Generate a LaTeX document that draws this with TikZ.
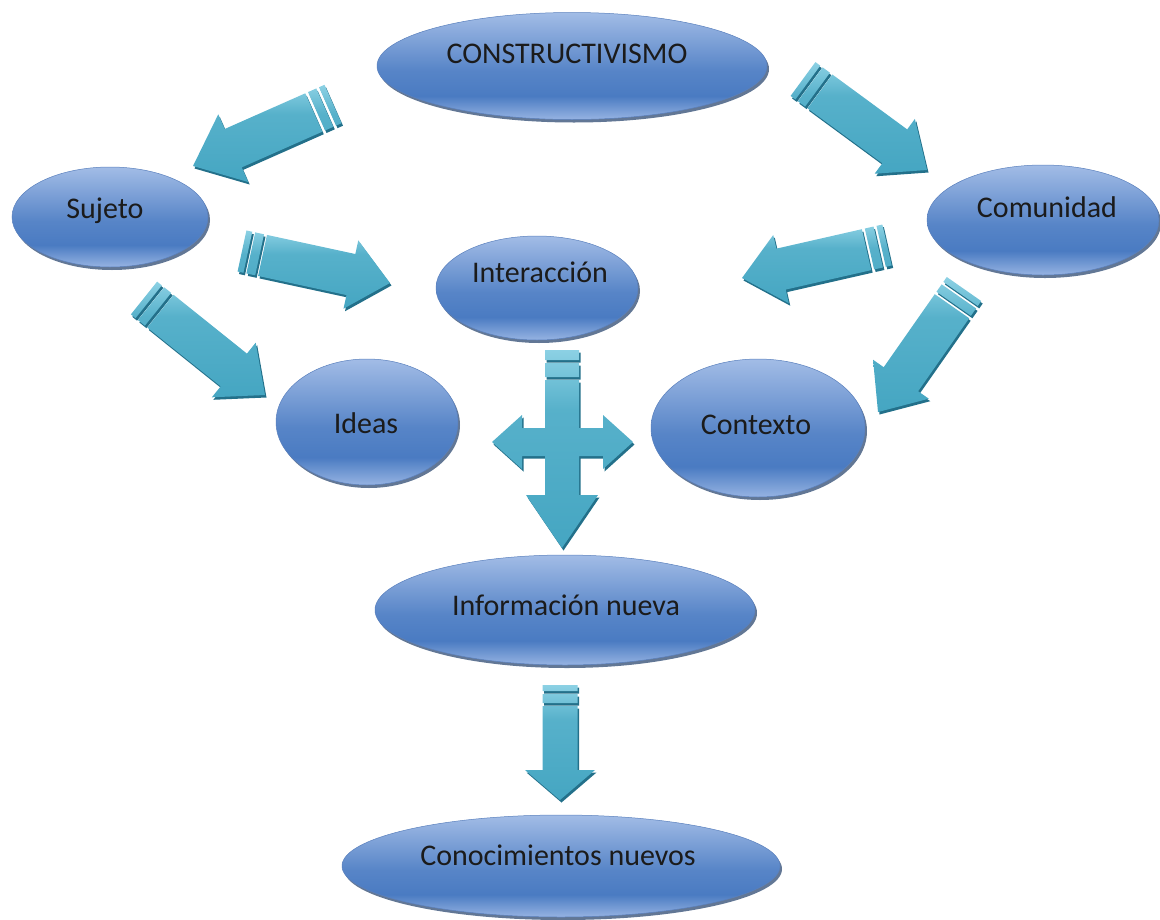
\documentclass[tikz,border=0pt]{standalone}
\usepackage{fontspec}
\setmainfont{Carlito}
\usetikzlibrary{shapes.geometric,shadows}
\definecolor{ellTop}{HTML}{A2BCE6}
\definecolor{ellMid}{HTML}{4A7BC2}
\definecolor{ellBot}{HTML}{96B3E2}
\definecolor{ellEdge}{HTML}{5A80BD}
\definecolor{ellShadow}{HTML}{2E4A72}
\definecolor{arrLight}{HTML}{8CD1E4}
\definecolor{arrMain}{HTML}{45A6C2}
\definecolor{arrDark}{HTML}{23708A}
\definecolor{txtCol}{HTML}{1B1B1B}
\pgfdeclareverticalshading{ellshade}{100bp}{color(0bp)=(ellBot); color(25bp)=(ellBot); color(36bp)=(ellMid); color(48bp)=(ellMid!85!ellTop); color(75bp)=(ellTop); color(100bp)=(ellTop)}
\pgfdeclareverticalshading{arrshade}{100bp}{color(0bp)=(arrMain); color(25bp)=(arrMain); color(60bp)=(arrMain!75!arrLight); color(75bp)=(arrLight); color(100bp)=(arrLight)}
\tikzset{
  ell/.style={ellipse, inner sep=0pt, shading=ellshade, draw=ellEdge, line width=0.5pt,
    drop shadow={shadow xshift=2pt, shadow yshift=-3pt, fill=ellShadow, opacity=0.75}},
  txt/.style={font=\fontsize{30}{36}\selectfont, text=txtCol, inner sep=0pt, anchor=base},
  arrbody/.style={shading=arrshade},
  arrback/.style={fill=arrDark},
}
% striped block arrow from tail coordinate #1 to tip coordinate #2
% #3 body half width, #4 head half width, #5 head length
\newcommand\arrpath[2]{(0,-#1) -- (6,-#1) -- (6,#1) -- (0,#1) -- cycle
  (9,-#1) -- (18,-#1) -- (18,#1) -- (9,#1) -- cycle
  (21,-#1) -- (\sbase,-#1) -- (\sbase,-#2) -- (\slen,0) -- (\sbase,#2) -- (\sbase,#1) -- (21,#1) -- cycle}
\newcommand\sarrow[5]{%
  \pgfpointdiff{\pgfpointanchor{#1}{center}}{\pgfpointanchor{#2}{center}}%
  \pgfgetlastxy\sdx\sdy
  \pgfmathsetmacro\sang{atan2(\sdy,\sdx)}%
  \pgfmathsetmacro\slen{veclen(\sdx,\sdy)}%
  \pgfmathsetmacro\sbase{\slen-#5}%
  \begin{scope}[shift={(#1)}, xshift=1.5pt, yshift=-2.5pt, rotate=\sang]
    \fill[arrback] \arrpath{#3}{#4};
  \end{scope}
  \begin{scope}[shift={(#1)}, rotate=\sang]
    \shade[arrbody] \arrpath{#3}{#4};
  \end{scope}}
\begin{document}
\begin{tikzpicture}[x=1pt,y=1pt]
\useasboundingbox (0,0) rectangle (1160,-919);
% ellipses
\node[ell, minimum width=390, minimum height=107] (constr) at (572,-66) {};
\node[ell, minimum width=196, minimum height=100] (suj) at (110,-217) {};
\node[ell, minimum width=232, minimum height=110] (com) at (1043,-220) {};
\node[ell, minimum width=202, minimum height=104] (inter) at (537,-288) {};
\node[ell, minimum width=182, minimum height=126] (ideas) at (367,-422) {};
\node[ell, minimum width=214, minimum height=138] (ctx) at (758,-428) {};
\node[ell, minimum width=380, minimum height=110] (info) at (565,-610) {};
\node[ell, minimum width=438, minimum height=102] (conoc) at (561,-866) {};
% texts
\node[txt] (constr-t) at (567,-63) {CONSTRUCTIVISMO};
\node[txt] (suj-t) at (105,-218) {Sujeto};
\node[txt] (com-t) at (1047,-217) {Comunidad};
\node[txt] (inter-t) at (540,-282) {Interacción};
\node[txt] (ideas-t) at (366,-433) {Ideas};
\node[txt] (ctx-t) at (756,-434) {Contexto};
\node[txt] (info-t) at (566,-615) {Información nueva};
\node[txt] (conoc-t) at (558,-865) {Conocimientos nuevos};
% arrow end points
\coordinate (a1t) at (333,-104); \coordinate (a1h) at (193,-166);
\coordinate (a2t) at (803,-79);  \coordinate (a2h) at (927,-170);
\coordinate (a3t) at (242,-251); \coordinate (a3h) at (390,-283);
\coordinate (a4t) at (887,-245); \coordinate (a4h) at (742,-278);
\coordinate (a5t) at (144,-298); \coordinate (a5h) at (265,-395);
\coordinate (a6t) at (964,-289); \coordinate (a6h) at (878,-412);
\coordinate (a8t) at (560,-685); \coordinate (a8h) at (560,-800);
\sarrow{a1t}{a1h}{21}{37}{44}
\sarrow{a2t}{a2h}{21}{34}{40}
\sarrow{a3t}{a3h}{21}{35}{40}
\sarrow{a4t}{a4h}{21}{35}{40}
\sarrow{a5t}{a5h}{21}{35}{40}
\sarrow{a6t}{a6h}{21}{34}{40}
\sarrow{a8t}{a8h}{17.5}{35}{30}
% cross arrow between Interaccion and Informacion nueva
\coordinate (xc) at (562,-442);
\begin{scope}[shift={(xc)}]
  \foreach \sty/\dx/\dy in {arrback/1.5/-2.5, arrbody/0/0}{
    \path[\sty, shift={(\dx,\dy)}]
      (-17,92) -- (17,92) -- (17,82) -- (-17,82) -- cycle
      (-17,79) -- (17,79) -- (17,65) -- (-17,65) -- cycle
      (-17,62) -- (-17,14) -- (-40,14) -- (-40,27) -- (-70,0) -- (-40,-27) -- (-40,-14)
      -- (-17,-14) -- (-17,-53) -- (-36,-53) -- (0,-106) -- (36,-53) -- (17,-53)
      -- (17,-14) -- (41,-14) -- (41,-27) -- (71,0) -- (41,27) -- (41,14) -- (17,14)
      -- (17,62) -- cycle;
  }
\end{scope}
\end{tikzpicture}
\end{document}
